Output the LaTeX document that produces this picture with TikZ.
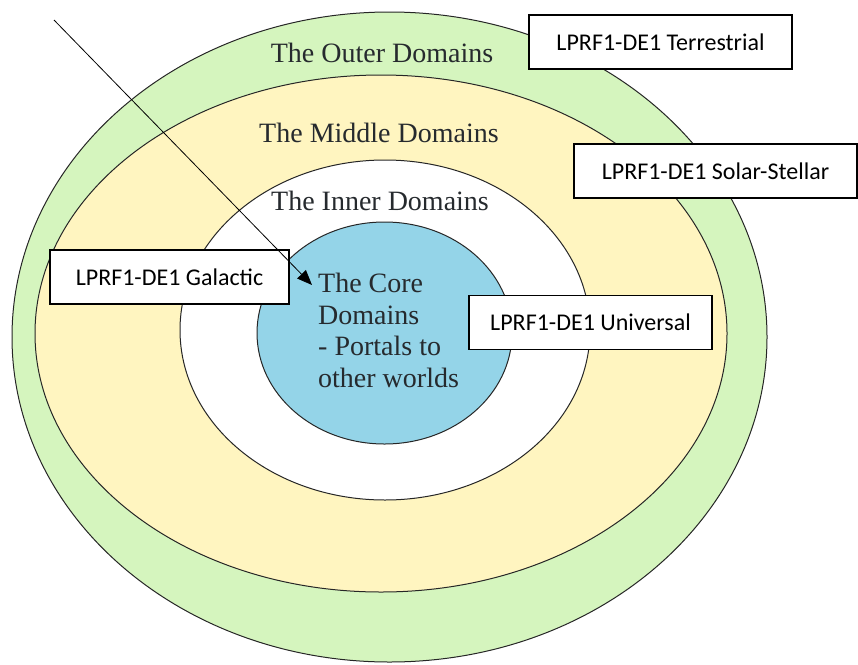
\documentclass[tikz,border=0pt]{standalone}
\usepackage{fontspec}
\setmainfont{Liberation Serif}
\newfontfamily\tagfont{Carlito}
\usetikzlibrary{shapes.geometric,arrows.meta}

\definecolor{outergreen}{RGB}{213,245,190}
\definecolor{middleyellow}{RGB}{255,245,192}
\definecolor{coreblue}{RGB}{148,212,232}
\definecolor{ringtext}{RGB}{38,42,46}

\begin{document}
\begin{tikzpicture}[x=1pt, y=-1pt,
  ring/.style={ellipse, draw=black!85, line width=1pt, inner sep=0pt},
  ring label/.style={anchor=base, text=ringtext, inner sep=0pt,
    font=\fontsize{28}{31.5}\selectfont},
  tag/.style={draw, line width=1.3pt, fill=white, minimum height=54pt,
    font=\tagfont\fontsize{24}{28}\selectfont}]

  \useasboundingbox (0,0) rectangle (858,664);

  % Nested domains, from the outside in

  \node [ring, fill=outergreen, minimum width=755, minimum height=650] (outer) at (389.5,337) {};
  \node [ring, fill=middleyellow, minimum width=692, minimum height=517] (middle) at (381,333.5) {};
  \node [ring, fill=white, minimum width=410, minimum height=340] (inner) at (385,330) {};
  \node [ring, fill=coreblue, minimum width=255, minimum height=222] (core) at (384.5,333) {};

  \node [ring label] (outer text) at (382,62) {The Outer Domains};
  \node [ring label] (middle text) at (379,142) {The Middle Domains};
  \node [ring label] (inner text) at (380,210) {The Inner Domains};
  \node [ring label, anchor=base west, align=left] (core text) at (318,387)
    {The Core\\Domains\\- Portals to\\other worlds};

  % Level tags

  \node [tag, minimum width=263] (terrestrial) at (660.5,42) {LPRF1-DE1 Terrestrial};
  \node [tag, minimum width=283] (solar) at (715.5,171) {LPRF1-DE1 Solar-Stellar};
  \node [tag, minimum width=239] (galactic) at (169.5,277) {LPRF1-DE1 Galactic};
  \node [tag, minimum width=243] (universal) at (590.5,322.5) {LPRF1-DE1 Universal};

  \coordinate (pointer tail) at (54,20);
  \coordinate (pointer tip) at (312,285);
  \draw [-{Triangle[length=15pt,width=12pt]}, line width=0.8pt] (pointer tail) -- (pointer tip);
\end{tikzpicture}
\end{document}
